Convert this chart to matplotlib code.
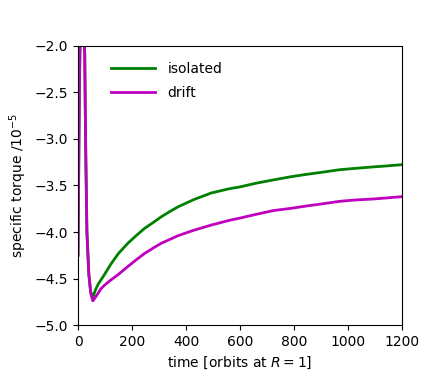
import matplotlib
matplotlib.use("Agg")
import matplotlib.pyplot as plt

t_iso = [0, 5, 10, 15, 20, 25, 28, 33, 40, 47, 55, 65, 75, 93, 123, 150, 185, 215, 247, 280, 309, 340, 370, 430, 494, 560, 600, 660, 723, 790, 847, 910, 970, 1030, 1094, 1150, 1200]
v_iso = [-4.25, -2.5, -1.5, -1.0, -1.5, -2.1, -3.0, -4.0, -4.45, -4.64, -4.70, -4.62, -4.56, -4.48, -4.34, -4.23, -4.12, -4.04, -3.96, -3.895, -3.835, -3.78, -3.73, -3.65, -3.58, -3.535, -3.515, -3.475, -3.44, -3.405, -3.38, -3.355, -3.33, -3.315, -3.30, -3.288, -3.276]

t_drift = [0, 5, 10, 15, 20, 25, 28, 33, 40, 47, 55, 65, 74, 85, 99, 120, 148, 185, 215, 247, 280, 309, 340, 370, 430, 494, 560, 600, 660, 723, 790, 847, 910, 970, 1030, 1094, 1150, 1200]
v_drift = [-4.25, -2.5, -1.5, -1.0, -1.5, -2.1, -3.0, -4.0, -4.45, -4.66, -4.74, -4.70, -4.66, -4.61, -4.57, -4.52, -4.46, -4.37, -4.30, -4.23, -4.17, -4.12, -4.08, -4.04, -3.98, -3.925, -3.875, -3.85, -3.81, -3.77, -3.745, -3.72, -3.695, -3.67, -3.655, -3.645, -3.632, -3.62]

labels = ["isolated", "drift"]
colors = ["green", "m"]

fig = plt.figure(figsize=(4.47, 3.82), dpi=100)
ax = fig.add_axes([0.1745, 0.1492, 0.7248, 0.7304])
ax.plot(t_iso, v_iso, color=colors[0], lw=2, label=labels[0])
ax.plot(t_drift, v_drift, color=colors[1], lw=2, label=labels[1])
ax.set_xlim(0, 1200)
ax.set_ylim(-5.0, -2.0)
ax.set_xticks([0, 200, 400, 600, 800, 1000, 1200])
ax.set_yticks([-5.0, -4.5, -4.0, -3.5, -3.0, -2.5, -2.0])
ax.set_xlabel(r"time [orbits at $R=1$]")
ax.set_ylabel(r"specific torque /$10^{-5}$")
ax.legend(loc="upper left", bbox_to_anchor=(0.062, 0.987), frameon=False,
          handlelength=3.2, handletextpad=0.9, labelspacing=0.7)
fig.savefig("out.png", dpi=100)
